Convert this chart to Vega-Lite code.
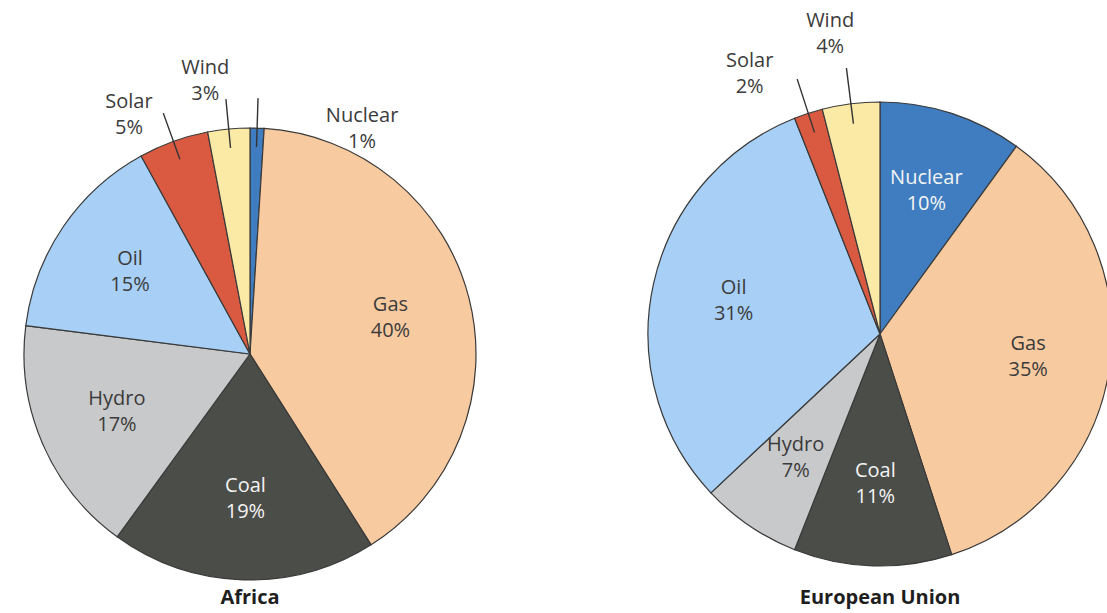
{
  "$schema": "https://vega.github.io/schema/vega-lite/v6.json",
  "width": 1107,
  "height": 613,
  "autosize": "none",
  "padding": 0,
  "background": "white",
  "config": {"view": {"stroke": null}, "text": {"font": "Open Sans", "fontSize": 20}},
  "datasets": {
    "energy": [
      {"region": "Africa", "source": "Nuclear", "share": 0.01, "k": 1},
      {"region": "Africa", "source": "Gas", "share": 0.40, "k": 2},
      {"region": "Africa", "source": "Coal", "share": 0.19, "k": 3},
      {"region": "Africa", "source": "Hydro", "share": 0.17, "k": 4},
      {"region": "Africa", "source": "Oil", "share": 0.15, "k": 5},
      {"region": "Africa", "source": "Solar", "share": 0.05, "k": 6},
      {"region": "Africa", "source": "Wind", "share": 0.03, "k": 7},
      {"region": "European Union", "source": "Nuclear", "share": 0.10, "k": 1},
      {"region": "European Union", "source": "Gas", "share": 0.35, "k": 2},
      {"region": "European Union", "source": "Coal", "share": 0.11, "k": 3},
      {"region": "European Union", "source": "Hydro", "share": 0.07, "k": 4},
      {"region": "European Union", "source": "Oil", "share": 0.31, "k": 5},
      {"region": "European Union", "source": "Solar", "share": 0.02, "k": 6},
      {"region": "European Union", "source": "Wind", "share": 0.04, "k": 7}
    ]
  },
  "data": {"name": "energy"},
  "encoding": {
    "x": {"field": "region", "type": "nominal", "axis": null,
      "scale": {"type": "point", "domain": ["Africa", "European Union"], "range": [250, 880], "padding": 0}}
  },
  "layer": [
    {
      "transform": [{"filter": "datum.region === 'Africa'"}],
      "encoding": {
        "y": {"field": "region", "type": "nominal", "axis": null,
          "scale": {"type": "point", "domain": ["Africa", "European Union"], "range": [354, 334], "padding": 0}},
        "theta": {"field": "share", "type": "quantitative", "stack": true, "scale": {"domain": [0, 1]}},
        "order": {"field": "k", "type": "quantitative"}
      },
      "layer": [
        {
          "mark": {"type": "arc", "outerRadius": 226, "stroke": "#3a3a3a", "strokeWidth": 1.2},
          "encoding": {
            "color": {"field": "source", "type": "nominal", "legend": null,
              "scale": {"domain": ["Nuclear", "Gas", "Coal", "Hydro", "Oil", "Solar", "Wind"],
                "range": ["#3f7dc0", "#f8caa0", "#4b4d49", "#c8c9ca", "#a8d0f6", "#d95a40", "#fbe9a6"]}}
          }
        },
        {
          "mark": {"type": "arc", "outerRadius": 256, "innerRadius": 207, "padAngle": 0.4, "fillOpacity": 0, "stroke": "#333333", "strokeWidth": 1.4},
          "encoding": {"opacity": {"condition": {"test": "datum.share < 0.06", "value": 1}, "value": 0}}
        },
        {
          "mark": {"type": "text", "radius": 145, "dy": -13},
          "encoding": {
            "text": {"field": "source", "type": "nominal"},
            "color": {"condition": {"test": "datum.source === 'Coal' || datum.source === 'Nuclear'", "value": "#f4f4f4"}, "value": "#3b3b3b"},
            "opacity": {"condition": {"test": "datum.share >= 0.06", "value": 1}, "value": 0}
          }
        },
        {
          "mark": {"type": "text", "radius": 145, "dy": 13},
          "encoding": {
            "text": {"field": "share", "type": "quantitative", "format": ".0%"},
            "color": {"condition": {"test": "datum.source === 'Coal' || datum.source === 'Nuclear'", "value": "#f4f4f4"}, "value": "#3b3b3b"},
            "opacity": {"condition": {"test": "datum.share >= 0.06", "value": 1}, "value": 0}
          }
        },
        {
          "mark": {"type": "text", "radius": 254, "dx": -35, "dy": -13, "color": "#3b3b3b"},
          "encoding": {
            "text": {"field": "source", "type": "nominal"},
            "opacity": {"condition": {"test": "datum.source === 'Solar'", "value": 1}, "value": 0}
          }
        },
        {
          "mark": {"type": "text", "radius": 254, "dx": -35, "dy": 13, "color": "#3b3b3b"},
          "encoding": {
            "text": {"field": "share", "type": "quantitative", "format": ".0%"},
            "opacity": {"condition": {"test": "datum.source === 'Solar'", "value": 1}, "value": 0}
          }
        },
        {
          "mark": {"type": "text", "radius": 274, "dx": -19, "dy": -13, "color": "#3b3b3b"},
          "encoding": {
            "text": {"field": "source", "type": "nominal"},
            "opacity": {"condition": {"test": "datum.source === 'Wind'", "value": 1}, "value": 0}
          }
        },
        {
          "mark": {"type": "text", "radius": 274, "dx": -19, "dy": 13, "color": "#3b3b3b"},
          "encoding": {
            "text": {"field": "share", "type": "quantitative", "format": ".0%"},
            "opacity": {"condition": {"test": "datum.source === 'Wind'", "value": 1}, "value": 0}
          }
        },
        {
          "mark": {"type": "text", "radius": 226, "dx": 105, "dy": -12, "color": "#3b3b3b"},
          "encoding": {
            "text": {"field": "source", "type": "nominal"},
            "opacity": {"condition": {"test": "datum.source === 'Nuclear'", "value": 1}, "value": 0}
          }
        },
        {
          "mark": {"type": "text", "radius": 226, "dx": 105, "dy": 14, "color": "#3b3b3b"},
          "encoding": {
            "text": {"field": "share", "type": "quantitative", "format": ".0%"},
            "opacity": {"condition": {"test": "datum.source === 'Nuclear'", "value": 1}, "value": 0}
          }
        }
      ]
    },
    {
      "transform": [{"filter": "datum.region === 'European Union'"}],
      "encoding": {
        "y": {"field": "region", "type": "nominal", "axis": null,
          "scale": {"type": "point", "domain": ["Africa", "European Union"], "range": [354, 334], "padding": 0}},
        "theta": {"field": "share", "type": "quantitative", "stack": true, "scale": {"domain": [0, 1]}},
        "order": {"field": "k", "type": "quantitative"}
      },
      "layer": [
        {
          "mark": {"type": "arc", "outerRadius": 232, "stroke": "#3a3a3a", "strokeWidth": 1.2},
          "encoding": {
            "color": {"field": "source", "type": "nominal", "legend": null,
              "scale": {"domain": ["Nuclear", "Gas", "Coal", "Hydro", "Oil", "Solar", "Wind"],
                "range": ["#3f7dc0", "#f8caa0", "#4b4d49", "#c8c9ca", "#a8d0f6", "#d95a40", "#fbe9a6"]}}
          }
        },
        {
          "mark": {"type": "arc", "outerRadius": 268, "innerRadius": 212, "padAngle": 0.4, "fillOpacity": 0, "stroke": "#333333", "strokeWidth": 1.4},
          "encoding": {"opacity": {"condition": {"test": "datum.share < 0.06", "value": 1}, "value": 0}}
        },
        {
          "mark": {"type": "text", "radius": 150, "dy": -13},
          "encoding": {
            "text": {"field": "source", "type": "nominal"},
            "color": {"condition": {"test": "datum.source === 'Coal' || datum.source === 'Nuclear'", "value": "#f4f4f4"}, "value": "#3b3b3b"},
            "opacity": {"condition": {"test": "datum.share >= 0.06", "value": 1}, "value": 0}
          }
        },
        {
          "mark": {"type": "text", "radius": 150, "dy": 13},
          "encoding": {
            "text": {"field": "share", "type": "quantitative", "format": ".0%"},
            "color": {"condition": {"test": "datum.source === 'Coal' || datum.source === 'Nuclear'", "value": "#f4f4f4"}, "value": "#3b3b3b"},
            "opacity": {"condition": {"test": "datum.share >= 0.06", "value": 1}, "value": 0}
          }
        },
        {
          "mark": {"type": "text", "radius": 273, "dx": -46, "dy": -13, "color": "#3b3b3b"},
          "encoding": {
            "text": {"field": "source", "type": "nominal"},
            "opacity": {"condition": {"test": "datum.source === 'Solar'", "value": 1}, "value": 0}
          }
        },
        {
          "mark": {"type": "text", "radius": 273, "dx": -46, "dy": 13, "color": "#3b3b3b"},
          "encoding": {
            "text": {"field": "share", "type": "quantitative", "format": ".0%"},
            "opacity": {"condition": {"test": "datum.source === 'Solar'", "value": 1}, "value": 0}
          }
        },
        {
          "mark": {"type": "text", "radius": 302, "dx": -12, "dy": -13, "color": "#3b3b3b"},
          "encoding": {
            "text": {"field": "source", "type": "nominal"},
            "opacity": {"condition": {"test": "datum.source === 'Wind'", "value": 1}, "value": 0}
          }
        },
        {
          "mark": {"type": "text", "radius": 302, "dx": -12, "dy": 13, "color": "#3b3b3b"},
          "encoding": {
            "text": {"field": "share", "type": "quantitative", "format": ".0%"},
            "opacity": {"condition": {"test": "datum.source === 'Wind'", "value": 1}, "value": 0}
          }
        }
      ]
    },
    {
      "transform": [{"aggregate": [{"op": "count", "as": "n"}], "groupby": ["region"]}],
      "mark": {"type": "text", "fontSize": 20, "fontWeight": "bold", "color": "#1e1e1e"},
      "encoding": {
        "text": {"field": "region", "type": "nominal"},
        "y": {"field": "region", "type": "nominal", "axis": null,
          "scale": {"type": "point", "domain": ["Africa", "European Union"], "range": [598, 598], "padding": 0}}
      }
    }
  ],
  "resolve": {"scale": {"y": "independent"}}
}
